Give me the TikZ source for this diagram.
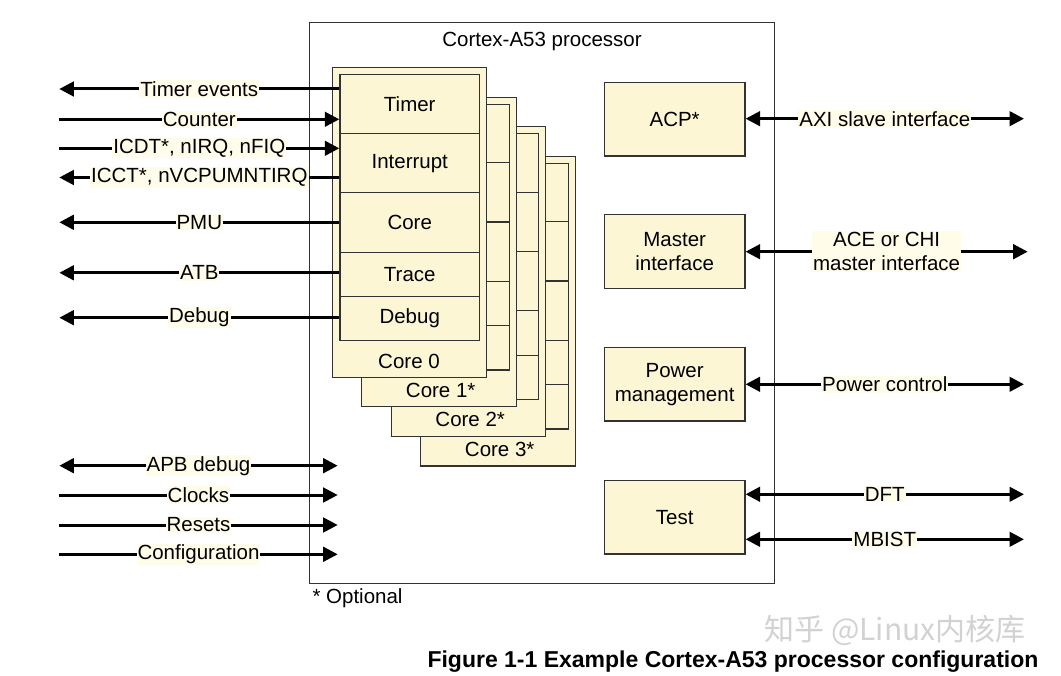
\documentclass[tikz,border=0pt]{standalone}
\usepackage{fontspec}
\setmainfont{Liberation Sans}
\newfontfamily\cjkfont{Noto Sans CJK SC}
\usetikzlibrary{arrows.meta}
\definecolor{cream}{RGB}{252,246,212}
\definecolor{labbg}{RGB}{255,252,234}
\definecolor{edge}{RGB}{50,50,50}
\begin{document}
\begin{tikzpicture}[x=1pt,y=-1pt,
  every node/.style={font=\fontsize{20.5}{24}\selectfont, text=black},
  blk/.style={draw=edge, fill=cream, line width=1.2pt, inner sep=0pt},
  sect/.style={draw=edge, fill=cream, line width=1.2pt, minimum width=139.7pt, inner sep=0pt, anchor=north west},
  rblk/.style={blk, minimum width=140.7pt, minimum height=73.8pt, align=center},
  lab/.style={fill=labbg, inner sep=1pt},
  sig/.style={line width=3pt, black},
  >={Triangle[length=14.5pt,width=14.5pt]}
]
\fill[white] (0,0) rectangle (1061,676);
\path[use as bounding box] (0,0) rectangle (1061,676);

% processor frame
\node[draw=edge, line width=1.3pt, minimum width=465pt, minimum height=561pt, inner sep=0pt, anchor=north west] (proc) at (309,22) {};
\node (title) at (542,41) {Cortex-A53 processor};

% optional cores 3..1
\foreach \k/\lbl in {3/{Core 3*},2/{Core 2*},1/{Core 1*}} {
  \pgfmathsetmacro\ox{331.7+29.5*\k}
  \pgfmathsetmacro\oy{67.3+29.5*\k}
  \node[blk, anchor=north west, minimum width=154.5pt, minimum height=309.5pt] (c\k) at (\ox,\oy) {};
  \node[blk, anchor=north west, minimum width=139.7pt, minimum height=265.7pt] (ci\k) at (\ox+7.6,\oy+7) {};
  \foreach \d in {59,118.3,177.6,222}
    \draw[edge, line width=1.2pt] (\ox+7.6,\oy+7+\d) -- ++(139.7,0);
  \node (cl\k) at (\ox+79.5,\oy+293.5) {\lbl};
}

% core 0
\node[blk, anchor=north west, minimum width=154.5pt, minimum height=309.5pt] (c0) at (331.7,67.3) {};
\node[sect, minimum height=59pt] (timer) at (339.3,74.3) {Timer};
\node[sect, minimum height=59pt] (intr) at (339.3,133.3) {Interrupt};
\node[sect, minimum height=59.4pt] (core) at (339.3,192.3) {Core};
\node[sect, minimum height=44pt] (trace) at (339.3,251.7) {Trace};
\node[sect, minimum height=44.3pt] (dbg) at (339.3,295.7) {Debug};
\node (cl0) at (409,361) {Core 0};

% left signals into core 0
\coordinate (l1) at (59.3,89);
\coordinate (l2) at (59.3,119.3);
\coordinate (l3) at (59.3,148.3);
\coordinate (l4) at (59.3,177.5);
\coordinate (l5) at (59.3,222.3);
\coordinate (l6) at (59.3,272.8);
\coordinate (l7) at (59.3,317.7);
\draw[sig,<-] (l1) -- node[lab]{Timer events} (l1 -| timer.west);
\draw[sig,->] (l2) -- node[lab]{Counter} (l2 -| timer.west);
\draw[sig,->] (l3) -- node[lab]{ICDT*, nIRQ, nFIQ} (l3 -| intr.west);
\draw[sig,<-] (l4) -- node[lab]{ICCT*, nVCPUMNTIRQ} (l4 -| intr.west);
\draw[sig,<-] (l5) -- node[lab]{PMU} (l5 -| core.west);
\draw[sig,<-] (l6) -- node[lab]{ATB} (l6 -| trace.west);
\draw[sig,<-] (l7) -- node[lab]{Debug} (l7 -| dbg.west);

% bottom left signals
\coordinate (b1s) at (59.3,465.7); \coordinate (b1e) at (337.7,465.7);
\coordinate (b2s) at (59.3,495);   \coordinate (b2e) at (337.7,495);
\coordinate (b3s) at (59.3,525);   \coordinate (b3e) at (337.7,525);
\coordinate (b4s) at (59.3,554.3); \coordinate (b4e) at (337.7,554.3);
\draw[sig,<->] (b1s) -- node[lab]{APB debug} (b1e);
\draw[sig,->] (b2s) -- node[lab]{Clocks} (b2e);
\draw[sig,->] (b3s) -- node[lab]{Resets} (b3e);
\draw[sig,->] (b4s) -- node[lab]{Configuration} (b4e);

% right blocks
\node[rblk] (acp) at (674.65,119.15) {ACP*};
\node[rblk] (mst) at (674.65,251.5) {Master\\interface};
\node[rblk] (pwr) at (674.65,384.15) {Power\\management};
\node[rblk] (tst) at (674.65,517.15) {Test};

\coordinate (r1) at (1024,118.7);
\coordinate (r2) at (1027.7,251.7);
\coordinate (r3) at (1024,384.3);
\coordinate (r4) at (1024,494.3);
\coordinate (r5) at (1024,539.3);
\draw[sig,<->] (r1 -| acp.east) -- node[lab]{AXI slave interface} (r1);
\draw[sig,<->] (r2 -| mst.east) -- node[lab, align=center]{ACE or CHI\\master interface} (r2);
\draw[sig,<->] (r3 -| pwr.east) -- node[lab]{Power control} (r3);
\draw[sig,<->] (r4 -| tst.east) -- node[lab]{DFT} (r4);
\draw[sig,<->] (r5 -| tst.east) -- node[lab]{MBIST} (r5);

\node[anchor=west] (opt) at (309,598) {* Optional};
\node[font=\cjkfont\fontsize{30}{32}\selectfont, text=gray!35] (wm) at (895,630) {知乎 @Linux内核库};
\node[font=\fontsize{23}{27}\bfseries\selectfont, anchor=base] (cap) at (733,667) {Figure 1-1 Example Cortex-A53 processor configuration};
\end{tikzpicture}
\end{document}
